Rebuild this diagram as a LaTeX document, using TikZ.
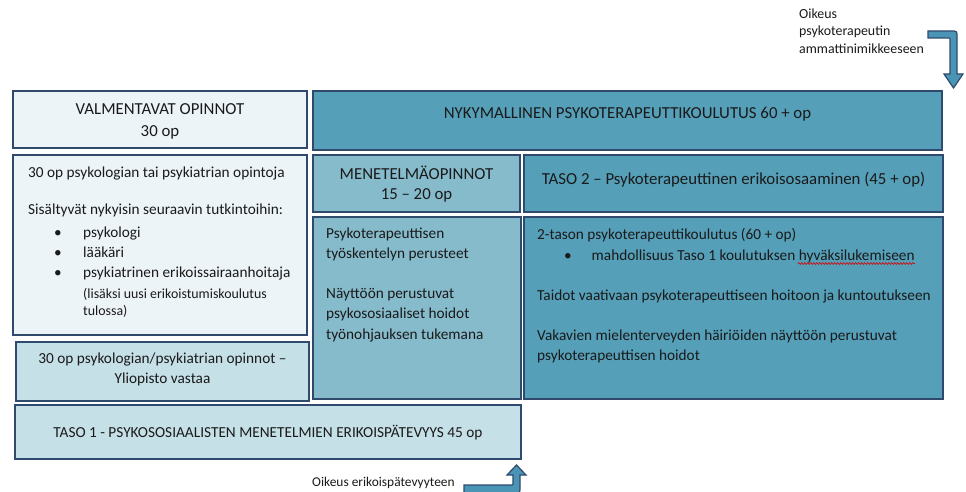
\documentclass[tikz,border=0pt]{standalone}
\usepackage{fontspec}
\setmainfont{Carlito}
\usetikzlibrary{decorations.pathmorphing}
\definecolor{bord}{HTML}{2F4A6D}
\definecolor{fpale}{HTML}{EDF4F7}
\definecolor{fteal}{HTML}{559FB8}
\definecolor{fmid}{HTML}{86BBCC}
\definecolor{flight}{HTML}{C6E0E8}
\definecolor{farrow}{HTML}{4A95B5}
\definecolor{txt}{HTML}{1A1A1A}
\begin{document}
\begin{tikzpicture}[x=1pt,y=-1pt,
  box/.style={draw=bord, line width=1.4pt, anchor=north west, inner sep=0pt, outer sep=0pt},
  lbl/.style={anchor=base west, inner sep=0pt, text=txt, font=\fontsize{15.3}{18}\selectfont},
  clbl/.style={anchor=base, inner sep=0pt, text=txt, font=\fontsize{15.3}{18}\selectfont},
  hdr/.style={anchor=base, inner sep=0pt, text=txt, font=\fontsize{16.8}{20}\selectfont},
  smalllbl/.style={anchor=base west, inner sep=0pt, text=txt, font=\fontsize{13.9}{16}\selectfont},
  bul/.style={anchor=base, inner sep=0pt, text=txt, font=\fontsize{15.3}{18}\selectfont},
  bendarrow/.style={fill=farrow, draw=bord, line width=1.2pt, line join=miter}
]
\useasboundingbox (0,0) rectangle (966,492);
\fill[white] (0,0) rectangle (966,492);

% boxes
\node[box, fill=fpale, minimum width=294pt, minimum height=57pt] (valm) at (13,91) {};
\node[box, fill=fteal, minimum width=629pt, minimum height=59pt] (nyky) at (313,91) {};
\node[box, fill=fpale, minimum width=294pt, minimum height=180pt] (vleft) at (13,155) {};
\node[box, fill=fmid, minimum width=207pt, minimum height=57pt] (mene) at (313,155) {};
\node[box, fill=fteal, minimum width=419pt, minimum height=57pt] (taso2) at (524,155) {};
\node[box, fill=fmid, minimum width=208pt, minimum height=182pt] (psyk) at (313,217) {};
\node[box, fill=fteal, minimum width=419pt, minimum height=182pt] (tason2) at (524,217) {};
\node[box, fill=flight, minimum width=293pt, minimum height=59pt] (yli) at (16,342) {};
\node[box, fill=flight, minimum width=506pt, minimum height=54pt] (taso1) at (15,405) {};

% headers
\node[hdr] (valmA) at (160,115) {VALMENTAVAT OPINNOT};
\node[hdr] (valmB) at (160,136) {30 op};
\node[hdr] (nykyT) at (627.5,119) {NYKYMALLINEN PSYKOTERAPEUTTIKOULUTUS 60 + op};
\node[hdr] (meneA) at (416.5,179) {MENETELMÄOPINNOT};
\node[hdr] (meneB) at (416.5,199) {15 – 20 op};
\node[hdr] (taso2T) at (733.5,184.5) {TASO 2 – Psykoterapeuttinen erikoisosaaminen (45 + op)};

% left box
\node[lbl] (l1) at (28,177) {30 op psykologian tai psykiatrian opintoja};
\node[lbl] (l2) at (28,214) {Sisältyvät nykyisin seuraavin tutkintoihin:};
\node[bul] (b1) at (58,237) {•};
\node[lbl] (l3) at (83,237) {psykologi};
\node[bul] (b2) at (58,257) {•};
\node[lbl] (l4) at (83,257) {lääkäri};
\node[bul] (b3) at (58,277) {•};
\node[lbl] (l5) at (83,277) {psykiatrinen erikoissairaanhoitaja};
\node[smalllbl] (l6) at (83,298) {(lisäksi uusi erikoistumiskoulutus};
\node[smalllbl] (l7) at (83,315) {tulossa)};

% psyk box
\node[lbl] (p1) at (326,238) {Psykoterapeuttisen};
\node[lbl] (p2) at (326,258.3) {työskentelyn perusteet};
\node[lbl] (p3) at (326,298.3) {Näyttöön perustuvat};
\node[lbl] (p4) at (326,318.6) {psykososiaaliset hoidot};
\node[lbl] (p5) at (326,339) {työnohjauksen tukemana};

% 2-tason box
\node[lbl] (t1) at (537,239.3) {2-tason psykoterapeuttikoulutus (60 + op)};
\node[bul] (tb) at (568,260) {•};
\node[lbl] (t2) at (591.5,260) {mahdollisuus Taso 1 koulutuksen hyväksilukemiseen};
\node[lbl] (t3) at (537,300) {Taidot vaativaan psykoterapeuttiseen hoitoon ja kuntoutukseen};
\node[lbl] (t4) at (537,340) {Vakavien mielenterveyden häiriöiden näyttöön perustuvat};
\node[lbl] (t5) at (537,360) {psykoterapeuttisen hoidot};
\draw[red!85!black, line width=0.6pt, decorate, decoration={snake, amplitude=0.9pt, segment length=3pt}] (t2.base east) ++(-117,3.5) -- ++(117,0);

% bottom-left boxes
\node[clbl] (y1) at (162.5,363.3) {30 op psykologian/psykiatrian opinnot –};
\node[clbl] (y2) at (162.5,383.3) {Yliopisto vastaa};
\node[clbl] (taso1T) at (268,437.3) {TASO 1 - PSYKOSOSIAALISTEN MENETELMIEN ERIKOISPÄTEVYYS 45 op};

% arrow labels
\node[smalllbl, font=\fontsize{13.4}{16}\selectfont] (oik1) at (312,486) {Oikeus erikoispätevyyteen};
\node[smalllbl] (oik2a) at (799,18.5) {Oikeus};
\node[smalllbl] (oik2b) at (799,36) {psykoterapeutin};
\node[smalllbl] (oik2c) at (799,53.5) {ammattinimikkeeseen};

% bent arrows
\draw[bendarrow] (928,31) -- (951,31) .. controls (957,31) .. (957,37) -- (957,74)
  -- (963,74) -- (953.5,88) -- (944,74) -- (950,74) -- (950,40)
  .. controls (950,38) .. (948,38) -- (928,38) -- cycle;
\draw[bendarrow] (464,485) -- (511,485) .. controls (513,485) .. (513,483) -- (513,475)
  -- (507,475) -- (516.5,465) -- (526,475) -- (520,475) -- (520,486)
  .. controls (520,494) .. (512,494) -- (464,494) -- cycle;
\end{tikzpicture}
\end{document}
